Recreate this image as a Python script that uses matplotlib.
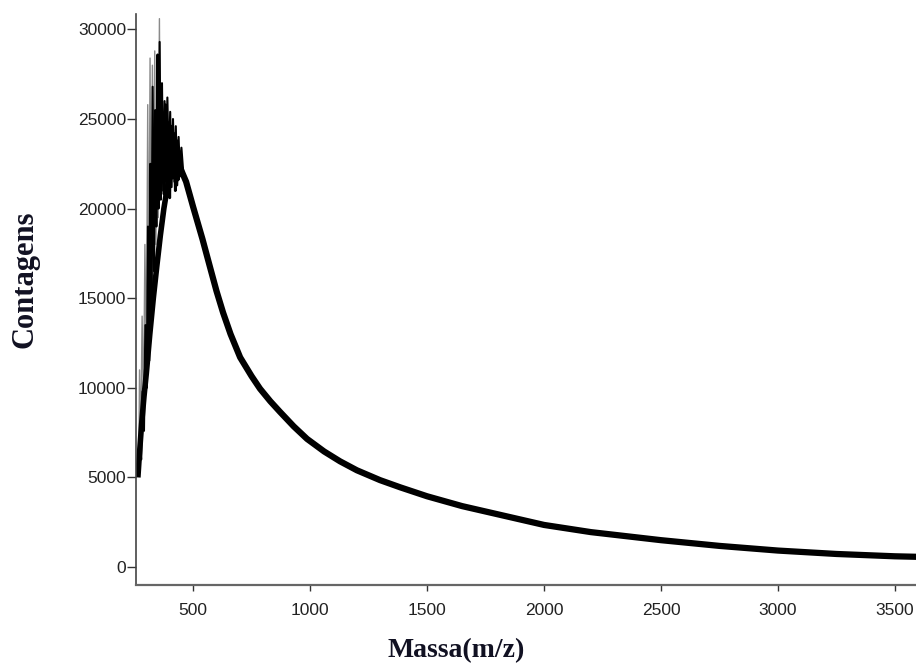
import matplotlib
matplotlib.use("Agg")
import matplotlib.pyplot as plt

massa_cauda = [400, 444, 470, 500, 540, 573, 600, 628, 660, 701, 750, 786, 830, 872,
               930, 987, 1060, 1128, 1200, 1299, 1385, 1500, 1650, 1800, 2000, 2200,
               2500, 2750, 3000, 3250, 3500, 3600]
contagens_cauda = [22000, 22300, 21500, 20100, 18300, 16700, 15400, 14200, 13000, 11700,
                   10650, 9950, 9250, 8650, 7850, 7150, 6450, 5900, 5400, 4850, 4450,
                   3950, 3400, 2950, 2350, 1950, 1500, 1180, 920, 730, 600, 570]

# Subida do pico (banda escura)
massa_subida = [264, 270, 280, 290, 300, 315, 330, 345, 360, 375, 390, 400]
contagens_subida = [5000, 6200, 8000, 9500, 10800, 13000, 15000, 16800, 18500, 20000, 21200, 21800]

# Oscilacoes do pico (tracos escuros)
massa_osc = [266, 272, 278, 284, 290, 296, 302, 307, 312, 317, 322, 327, 333, 338, 343,
             348, 352, 357, 362, 367, 372, 378, 384, 390, 396, 402, 408, 414, 420, 426,
             432, 438, 444, 450, 458]
contagens_osc = [5600, 7200, 6000, 9800, 7600, 13500, 10000, 19000, 11500, 22500, 14500,
                 26800, 16500, 25500, 19000, 28600, 20000, 29300, 20500, 27000, 21000,
                 26000, 21500, 26200, 22000, 25400, 21200, 25000, 21500, 24600, 21300,
                 24000, 21800, 23400, 22000]

# Segundo traco escuro da zona densa do pico
massa_osc2 = [340, 346, 352, 358, 364, 370, 376, 382, 388, 394, 400, 406, 412, 418, 424,
              430, 436, 442, 448]
contagens_osc2 = [21000, 25000, 20500, 26500, 21500, 25200, 20800, 25800, 21800, 24800,
                  20600, 24600, 21700, 24200, 21000, 23800, 21600, 23200, 22200]

# Oscilacoes do pico (tracos cinzentos)
massa_cinza = [268, 271, 276, 282, 288, 294, 300, 306, 310, 316, 320, 326, 331, 336, 341,
               346, 351, 356, 360, 365]
contagens_cinza = [6000, 11000, 7000, 14000, 9000, 18000, 11000, 25800, 13000, 28400,
                   15000, 28000, 17000, 28800, 18000, 27500, 19500, 30600, 21000, 25500]

# Rotulos dos eixos
ticks_x = [500, 1000, 1500, 2000, 2500, 3000, 3500]
ticks_y = [0, 5000, 10000, 15000, 20000, 25000, 30000]

fig = plt.figure(figsize=(9.16, 6.69), dpi=100)
ax = fig.add_axes([0.1485, 0.1256, 0.8515, 0.8535])

ax.plot(massa_cinza, contagens_cinza, color="#8a8a8a", lw=1.0)
ax.plot(massa_subida, contagens_subida, color="black", lw=4.0, solid_capstyle="butt")
ax.plot(massa_osc, contagens_osc, color="black", lw=1.5)
ax.plot(massa_osc2, contagens_osc2, color="black", lw=2.0)
ax.plot(massa_cauda, contagens_cauda, color="black", lw=4.5, solid_joinstyle="round")

ax.set_xlim(256, 3590)
ax.set_ylim(-1000, 30860)
ax.set_xticks(ticks_x)
ax.set_yticks(ticks_y)

# Estilo dos eixos
for lado in ["top", "right"]:
    ax.spines[lado].set_visible(False)
ax.spines["left"].set_color("#444444")
ax.spines["left"].set_linewidth(1.2)
ax.spines["bottom"].set_color("#666666")
ax.spines["bottom"].set_linewidth(1.6)

ax.tick_params(axis="y", direction="out", length=6.5, width=1, pad=0.5,
               colors="#333333", labelsize=12.5)
ax.tick_params(axis="x", direction="out", length=4, width=1, pad=9,
               colors="#333333", labelsize=12.5)
for rot in ax.get_xticklabels() + ax.get_yticklabels():
    rot.set_fontfamily("Liberation Sans")
    rot.set_color("#222222")

# Titulos dos eixos
fig.text(0.498, 0.028, "Massa(m/z)", ha="center", va="center",
         fontfamily="Liberation Serif", fontweight="bold", fontsize=20, color="#111122")
fig.text(0.027, 0.583, "Contagens", ha="center", va="center", rotation=90,
         fontfamily="Liberation Serif", fontweight="bold", fontsize=22, color="#111122")

plt.savefig("out.png", dpi=100)
